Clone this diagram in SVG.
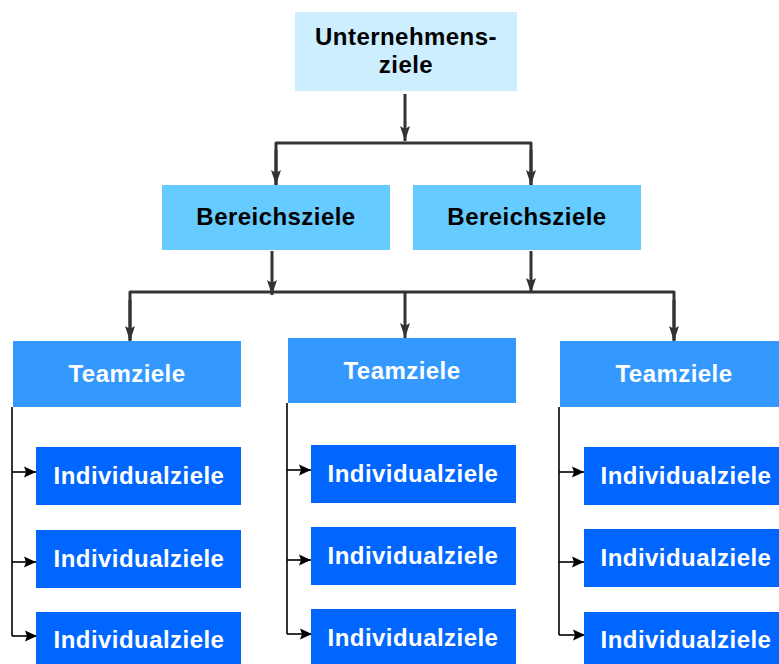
<svg xmlns="http://www.w3.org/2000/svg" width="779" height="664" viewBox="0 0 779 664">
<defs>
<marker id="ah" markerUnits="userSpaceOnUse" markerWidth="16" markerHeight="12" viewBox="0 0 16 12" refX="15" refY="6" orient="auto">
<path d="M0,1 L15,6 L0,11 L3,6 z" fill="#333333"/>
</marker>
<marker id="as" markerUnits="userSpaceOnUse" markerWidth="13" markerHeight="12" viewBox="0 0 13 12" refX="12" refY="6" orient="auto">
<path d="M0,0.5 L12,6 L0,11.5 L2,6 z" fill="#000000"/>
</marker>
</defs>
<style>
.t{font-family:"Liberation Sans",Arial,sans-serif;font-weight:bold;font-size:24px;letter-spacing:0.45px;text-anchor:middle}
.dk{fill:#000000}
.wt{fill:#ffffff}
.thick{stroke:#333333;stroke-width:3;fill:none;stroke-linejoin:round}
.thin{stroke:#000000;stroke-width:1.6;fill:none}
</style>
<rect width="779" height="664" fill="#ffffff"/>

<g id="connectors">
<line class="thick" x1="405" y1="94" x2="405" y2="141" marker-end="url(#ah)"/>
<polyline class="thick" points="276,185 276,143 531,143 531,185"/>
<line class="thick" x1="276" y1="150" x2="276" y2="185" marker-end="url(#ah)"/>
<line class="thick" x1="531" y1="150" x2="531" y2="185" marker-end="url(#ah)"/>
<line class="thick" x1="272" y1="251" x2="272" y2="295" marker-end="url(#ah)"/>
<line class="thick" x1="531" y1="251" x2="531" y2="293" marker-end="url(#ah)"/>
<polyline class="thick" points="130,340 130,292 674,292 674,340"/>
<line class="thick" x1="130" y1="300" x2="130" y2="341" marker-end="url(#ah)"/>
<line class="thick" x1="405" y1="292" x2="405" y2="338" marker-end="url(#ah)"/>
<line class="thick" x1="674" y1="300" x2="674" y2="341" marker-end="url(#ah)"/>

<line class="thin" x1="12" y1="407" x2="12" y2="636"/>
<line class="thin" x1="12" y1="472" x2="36" y2="472" marker-end="url(#as)"/>
<line class="thin" x1="12" y1="562" x2="36" y2="562" marker-end="url(#as)"/>
<line class="thin" x1="12" y1="636" x2="37" y2="636" marker-end="url(#as)"/>

<line class="thin" x1="287" y1="403" x2="287" y2="634"/>
<line class="thin" x1="287" y1="470" x2="311" y2="470" marker-end="url(#as)"/>
<line class="thin" x1="287" y1="560" x2="311" y2="560" marker-end="url(#as)"/>
<line class="thin" x1="287" y1="634" x2="312" y2="634" marker-end="url(#as)"/>

<line class="thin" x1="559" y1="407" x2="559" y2="635"/>
<line class="thin" x1="559" y1="472" x2="584" y2="472" marker-end="url(#as)"/>
<line class="thin" x1="559" y1="562" x2="584" y2="562" marker-end="url(#as)"/>
<line class="thin" x1="559" y1="635" x2="585" y2="635" marker-end="url(#as)"/>
</g>

<g id="unternehmensziele">
<rect x="295" y="12" width="222" height="79" fill="#CCEEFF"/>
<text class="t dk" x="406" y="45">Unternehmens-</text>
<text class="t dk" x="406" y="73">ziele</text>
</g>

<g id="bereich1">
<rect x="162" y="185" width="228" height="65" fill="#66CCFF"/>
<text class="t dk" x="276" y="225">Bereichsziele</text>
</g>
<g id="bereich2">
<rect x="413" y="185" width="228" height="65" fill="#66CCFF"/>
<text class="t dk" x="527" y="225">Bereichsziele</text>
</g>

<g id="team1">
<rect x="13" y="341" width="228" height="66" fill="#3399FF"/>
<text class="t wt" x="127" y="382">Teamziele</text>
</g>
<g id="team2">
<rect x="288" y="338" width="228" height="65" fill="#3399FF"/>
<text class="t wt" x="402" y="379">Teamziele</text>
</g>
<g id="team3">
<rect x="560" y="341" width="228" height="66" fill="#3399FF"/>
<text class="t wt" x="674" y="382">Teamziele</text>
</g>

<g id="ind1a"><rect x="36" y="447" width="205" height="58" fill="#0066FF"/><text class="t wt" x="139" y="484">Individualziele</text></g>
<g id="ind1b"><rect x="36" y="530" width="205" height="58" fill="#0066FF"/><text class="t wt" x="139" y="567">Individualziele</text></g>
<g id="ind1c"><rect x="36" y="612" width="205" height="58" fill="#0066FF"/><text class="t wt" x="139" y="648">Individualziele</text></g>

<g id="ind2a"><rect x="311" y="445" width="205" height="58" fill="#0066FF"/><text class="t wt" x="413" y="482">Individualziele</text></g>
<g id="ind2b"><rect x="311" y="527" width="205" height="58" fill="#0066FF"/><text class="t wt" x="413" y="564">Individualziele</text></g>
<g id="ind2c"><rect x="311" y="609" width="205" height="58" fill="#0066FF"/><text class="t wt" x="413" y="646">Individualziele</text></g>

<g id="ind3a"><rect x="584" y="447" width="205" height="58" fill="#0066FF"/><text class="t wt" x="686" y="484">Individualziele</text></g>
<g id="ind3b"><rect x="584" y="529" width="205" height="58" fill="#0066FF"/><text class="t wt" x="686" y="566">Individualziele</text></g>
<g id="ind3c"><rect x="584" y="612" width="205" height="58" fill="#0066FF"/><text class="t wt" x="686" y="648">Individualziele</text></g>
</svg>
